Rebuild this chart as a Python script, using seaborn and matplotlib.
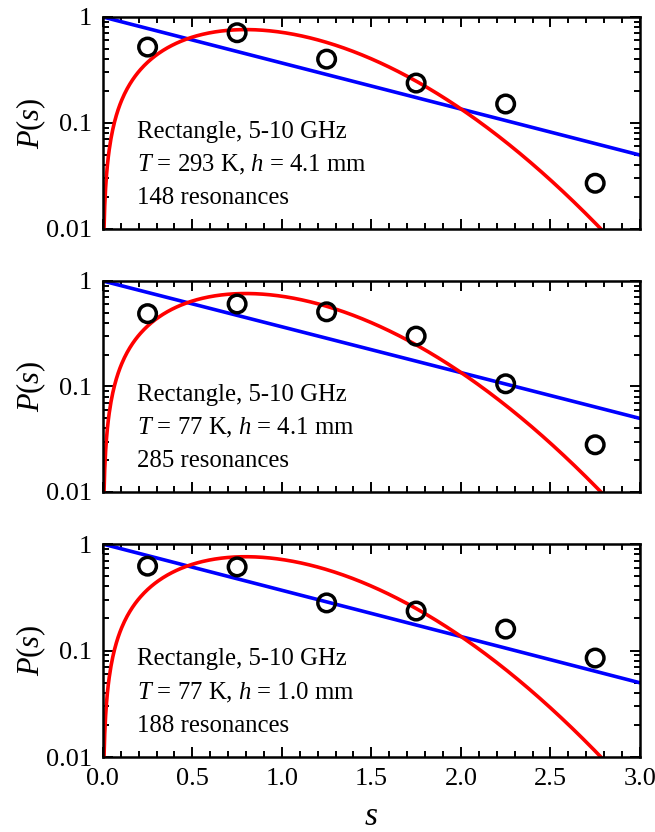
import matplotlib
matplotlib.use("Agg")
import matplotlib.pyplot as plt
import matplotlib.ticker as mticker
import seaborn as sns
import numpy as np
import pandas as pd

# measured histogram points (bin centres)
s_bins = [0.25, 0.75, 1.25, 1.75, 2.25, 2.75]
p_293k_41mm = [0.52, 0.71, 0.40, 0.238, 0.151, 0.027]
p_77k_41mm = [0.49, 0.605, 0.51, 0.30, 0.106, 0.028]
p_77k_10mm = [0.62, 0.61, 0.28, 0.235, 0.159, 0.085]

panel_labels = [
    ["Rectangle, 5-10 GHz", "$T$ = 293 K, $h$ = 4.1 mm", "148 resonances"],
    ["Rectangle, 5-10 GHz", "$T$ = 77 K, $h$ = 4.1 mm", "285 resonances"],
    ["Rectangle, 5-10 GHz", "$T$ = 77 K, $h$ = 1.0 mm", "188 resonances"],
]
panel_data = [p_293k_41mm, p_77k_41mm, p_77k_10mm]

# theory curves: Poisson and Wigner surmise
s_grid = np.linspace(0.0005, 3.0, 600)
poisson = np.exp(-s_grid)
wigner = np.pi / 2 * s_grid * np.exp(-np.pi * s_grid ** 2 / 4)
curves = pd.DataFrame({"s": s_grid, "poisson": poisson, "wigner": wigner})

sns.set_style("ticks")
plt.rcParams["font.family"] = ["Liberation Serif", "DejaVu Serif"]
plt.rcParams["mathtext.fontset"] = "custom"
plt.rcParams["mathtext.rm"] = "Liberation Serif"
plt.rcParams["mathtext.it"] = "Liberation Serif:italic"
plt.rcParams["text.color"] = "black"
plt.rcParams["axes.labelcolor"] = "black"

fig = plt.figure(figsize=(6.55, 8.32), dpi=100)
boxes = [
    [0.157, 0.7248, 0.820, 0.2548],
    [0.157, 0.4087, 0.820, 0.2536],
    [0.157, 0.0901, 0.820, 0.2560],
]

for i, box in enumerate(boxes):
    ax = fig.add_axes(box)
    sns.lineplot(data=curves, x="s", y="poisson", color="#0000ff", lw=2.6, ax=ax)
    sns.lineplot(data=curves, x="s", y="wigner", color="#ff0000", lw=2.6, ax=ax)
    pts = pd.DataFrame({"s": s_bins, "p": panel_data[i]})
    sns.scatterplot(data=pts, x="s", y="p", marker="o", s=160,
                    facecolor="none", edgecolor="black", linewidth=2.5, ax=ax, zorder=5)

    ax.set_yscale("log")
    ax.set_xlim(0, 3.0)
    ax.set_ylim(0.01, 1)
    ax.xaxis.set_major_locator(mticker.MultipleLocator(0.5))
    ax.xaxis.set_minor_locator(mticker.MultipleLocator(0.1))
    ax.yaxis.set_major_locator(mticker.FixedLocator([0.01, 0.1, 1]))
    ax.yaxis.set_major_formatter(mticker.FixedFormatter(["0.01", "0.1", "1"]))
    ax.yaxis.set_minor_locator(mticker.LogLocator(base=10, subs=np.arange(2, 10)))
    ax.yaxis.set_minor_formatter(mticker.NullFormatter())
    ax.tick_params(which="both", direction="in", top=True, right=True, width=1.4,
                   labelsize=19, colors="black")
    ax.tick_params(which="major", length=7, pad=8)
    ax.tick_params(which="minor", length=4)
    for sp in ax.spines.values():
        sp.set_linewidth(1.8)
        sp.set_color("black")

    ax.set_ylabel("$P$($s$)", fontsize=22, labelpad=-2)
    if i == 2:
        ax.xaxis.set_major_formatter(mticker.FormatStrFormatter("%.1f"))
        ax.set_xlabel("$s$", fontsize=24, labelpad=8)
    else:
        ax.set_xticklabels([])
        ax.set_xlabel("")

    for j, line in enumerate(panel_labels[i]):
        ax.text(0.063, [0.458, 0.302, 0.146][j], line, transform=ax.transAxes,
                fontsize=17.8, va="center", ha="left")

fig.savefig("out.png", dpi=100)
